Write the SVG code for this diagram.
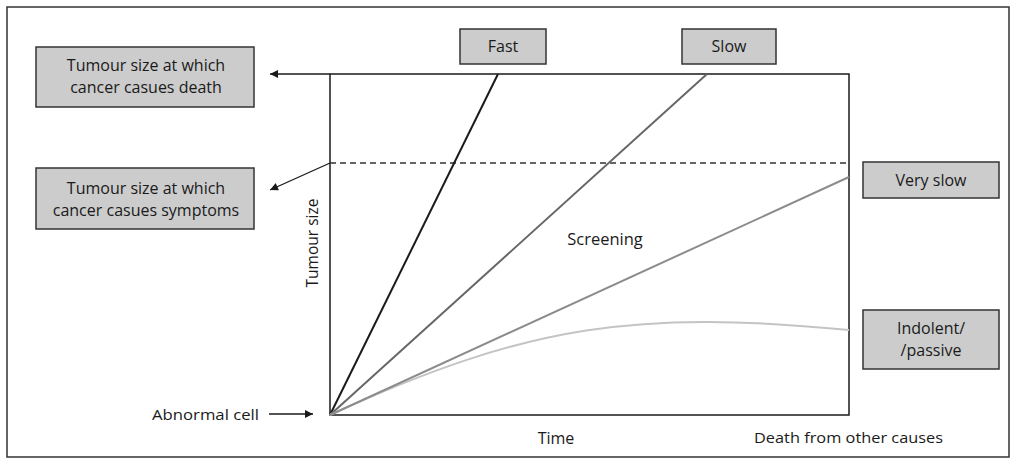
<svg xmlns="http://www.w3.org/2000/svg" width="1016" height="464" viewBox="0 0 1016 464">
<defs>
<marker id="ah" viewBox="0 0 10 10" refX="10" refY="5" markerWidth="10" markerHeight="8" markerUnits="userSpaceOnUse" orient="auto"><path d="M0,0 L10,5 L0,10 z" fill="#1a1a1a"/></marker>
<style>
text{font-family:"Open Sans","Noto Sans",sans-serif;font-size:15px;fill:#1a1a1a}
.box{fill:#cccccc;stroke:#333;stroke-width:1.5}
.bt{font-size:16px}
.c{text-anchor:middle}
</style>
</defs>
<rect x="7" y="7" width="1002" height="450" fill="#fff" stroke="#333" stroke-width="1.5"/>
<g id="plot">
<rect x="330" y="74" width="519" height="341" fill="none" stroke="#1a1a1a" stroke-width="1.5"/>
<line x1="330" y1="163" x2="849" y2="163" stroke="#333" stroke-width="1.3" stroke-dasharray="6,4"/>
</g>
<g id="connectors" fill="none">
<line x1="330" y1="415" x2="498" y2="74" stroke="#1a1a1a" stroke-width="2"/>
<line x1="330" y1="415" x2="707" y2="74" stroke="#666" stroke-width="2"/>
<path d="M330,415 C530,323 640,310 849,330" stroke="#c4c4c4" stroke-width="2"/>
<line x1="330" y1="415" x2="849" y2="177" stroke="#8c8c8c" stroke-width="2"/>
<line x1="330" y1="74" x2="270" y2="74" stroke="#1a1a1a" stroke-width="1.3" marker-end="url(#ah)"/>
<line x1="330" y1="163" x2="270" y2="190" stroke="#1a1a1a" stroke-width="1.3" marker-end="url(#ah)"/>
<line x1="269" y1="414" x2="313" y2="414" stroke="#1a1a1a" stroke-width="1.3" marker-end="url(#ah)"/>
</g>
<g id="death-box"><rect class="box" x="36" y="47" width="218" height="60"/><text class="c bt" x="146" y="71">Tumour size at which</text><text class="c bt" x="146" y="93">cancer casues death</text></g>
<g id="symptoms-box"><rect class="box" x="36" y="168" width="218" height="61"/><text class="c bt" x="146" y="194">Tumour size at which</text><text class="c bt" x="146" y="216">cancer casues symptoms</text></g>
<g id="fast"><rect class="box" x="460" y="29" width="86" height="35"/><text class="c bt" x="503" y="52">Fast</text></g>
<g id="slow"><rect class="box" x="682" y="29" width="94" height="35"/><text class="c bt" x="729" y="52">Slow</text></g>
<g id="very-slow"><rect class="box" x="863" y="162" width="136" height="36"/><text class="c bt" x="931" y="186">Very slow</text></g>
<g id="indolent"><rect class="box" x="863" y="310" width="136" height="59"/><text class="c bt" x="931" y="334">Indolent/</text><text class="c bt" x="931" y="356">/passive</text></g>
<g id="labels">
<text class="c" style="font-size:16.5px" x="605" y="245">Screening</text>
<text class="c" style="font-size:15.5px" transform="translate(318,243) rotate(-90)">Tumour size</text>
<text x="152" y="420" textLength="107" lengthAdjust="spacingAndGlyphs">Abnormal cell</text>
<text class="c" style="font-size:16px" x="556" y="444">Time</text>
<text x="754" y="443" textLength="189" lengthAdjust="spacingAndGlyphs">Death from other causes</text>
</g>
</svg>
